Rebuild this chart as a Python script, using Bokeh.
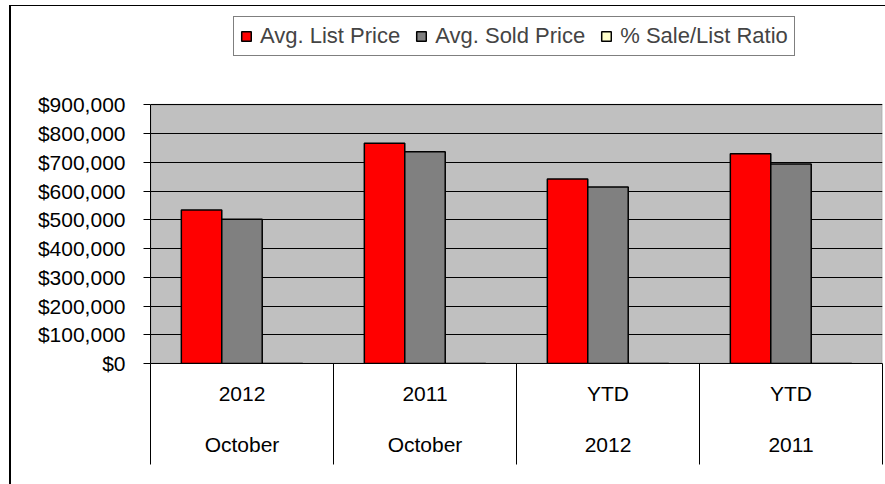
from bokeh.plotting import figure
from bokeh.models import (ColumnDataSource, Range1d, FixedTicker, NumeralTickFormatter,
                          Legend, LegendItem, LinearAxis, BoxAnnotation)
from bokeh.transform import dodge
from bokeh.embed import file_html
from bokeh.resources import INLINE

# ---- data ----
period_top = ["2012", "2011", "YTD", "YTD"]
period_bottom = ["October", "October", "2012", "2011"]
avg_list_price = [534000, 766000, 642000, 730000]
avg_sold_price = [502000, 737000, 614000, 694000]
sale_list_ratio = [0.94, 0.962, 0.956, 0.951]
y_ticks = [0, 100000, 200000, 300000, 400000, 500000, 600000, 700000, 800000, 900000]

n = len(period_top)
centers = [i + 0.5 for i in range(n)]
src = ColumnDataSource(dict(x=centers, lst=avg_list_price, sold=avg_sold_price, ratio=sale_list_ratio))

FONT = "Liberation Sans"
y_top = y_ticks[-1]
# frame extends above the plot area to host the legend (frame 356px, plot area 258px)
y_view_max = y_top * 356 / 258

p = figure(width=876, height=479, output_backend="svg", toolbar_location=None,
           x_range=Range1d(0, n), y_range=Range1d(0, y_view_max),
           min_border_left=139, min_border_right=5, min_border_top=0, min_border_bottom=122,
           x_axis_type=None)
p.margin = (5, 0, 0, 9)
p.styles = {"border-left": "2px solid black", "border-top": "1px solid black"}

p.background_fill_color = "white"
p.border_fill_color = "white"
p.outline_line_color = None

area = BoxAnnotation(left=0, right=n, bottom=0, top=y_top, fill_color="#C0C0C0", fill_alpha=1,
                     line_color="#808080", line_width=2, level="image")
p.add_layout(area)

bw = 0.221
r1 = p.vbar(x=dodge("x", -bw, range=p.x_range), top="lst", width=bw, source=src,
            fill_color="#FF0000", line_color="black", line_width=1.5)
r2 = p.vbar(x=dodge("x", 0, range=p.x_range), top="sold", width=bw, source=src,
            fill_color="#808080", line_color="black", line_width=1.5)
r3 = p.vbar(x=dodge("x", bw, range=p.x_range), top="ratio", width=bw, source=src,
            fill_color="#FFFFCC", line_color="black", line_width=1.5)

# y axis
ya = p.yaxis[0]
ya.ticker = FixedTicker(ticks=y_ticks)
ya.bounds = (0, y_top)
ya.formatter = NumeralTickFormatter(format="$0,0")
ya.major_label_text_font = FONT
ya.major_label_text_font_size = "21px"
ya.major_label_text_color = "black"
ya.major_tick_out = 7
ya.major_tick_in = 0
ya.minor_tick_line_color = None
ya.axis_line_color = "black"
ya.major_tick_line_color = "black"
ya.major_label_standoff = 18

p.ygrid.ticker = FixedTicker(ticks=y_ticks)
p.ygrid.grid_line_color = "black"
p.xgrid.grid_line_color = None

# x axis: labels at centres, long dividers at category bounds
xa = LinearAxis(ticker=FixedTicker(ticks=centers, minor_ticks=list(range(n + 1))))
xa.major_label_overrides = {c: f"{t}\n{b}" for c, t, b in zip(centers, period_top, period_bottom)}
xa.major_tick_line_color = None
xa.major_tick_out = 0
xa.major_tick_in = 0
xa.minor_tick_out = 101
xa.minor_tick_in = 0
xa.minor_tick_line_color = "black"
xa.axis_line_color = "black"
xa.major_label_text_font = FONT
xa.major_label_text_font_size = "21px"
xa.major_label_text_color = "black"
xa.major_label_text_line_height = 2.25
xa.major_label_standoff = -83
p.add_layout(xa, "below")

legend = Legend(items=[LegendItem(label="Avg. List Price", renderers=[r1]),
                       LegendItem(label="Avg. Sold Price", renderers=[r2]),
                       LegendItem(label="% Sale/List Ratio", renderers=[r3])],
                location=(83, 307), orientation="horizontal")
legend.label_text_font = FONT
legend.label_text_font_size = "22px"
legend.glyph_width = 12
legend.glyph_height = 12
legend.label_standoff = 8
legend.spacing = 15
legend.padding = 6
legend.margin = 0
legend.border_line_color = "black"
legend.border_line_width = 1
legend.background_fill_color = "white"
legend.background_fill_alpha = 1
p.add_layout(legend, "center")

open("out.html", "w").write(file_html(p, INLINE))
